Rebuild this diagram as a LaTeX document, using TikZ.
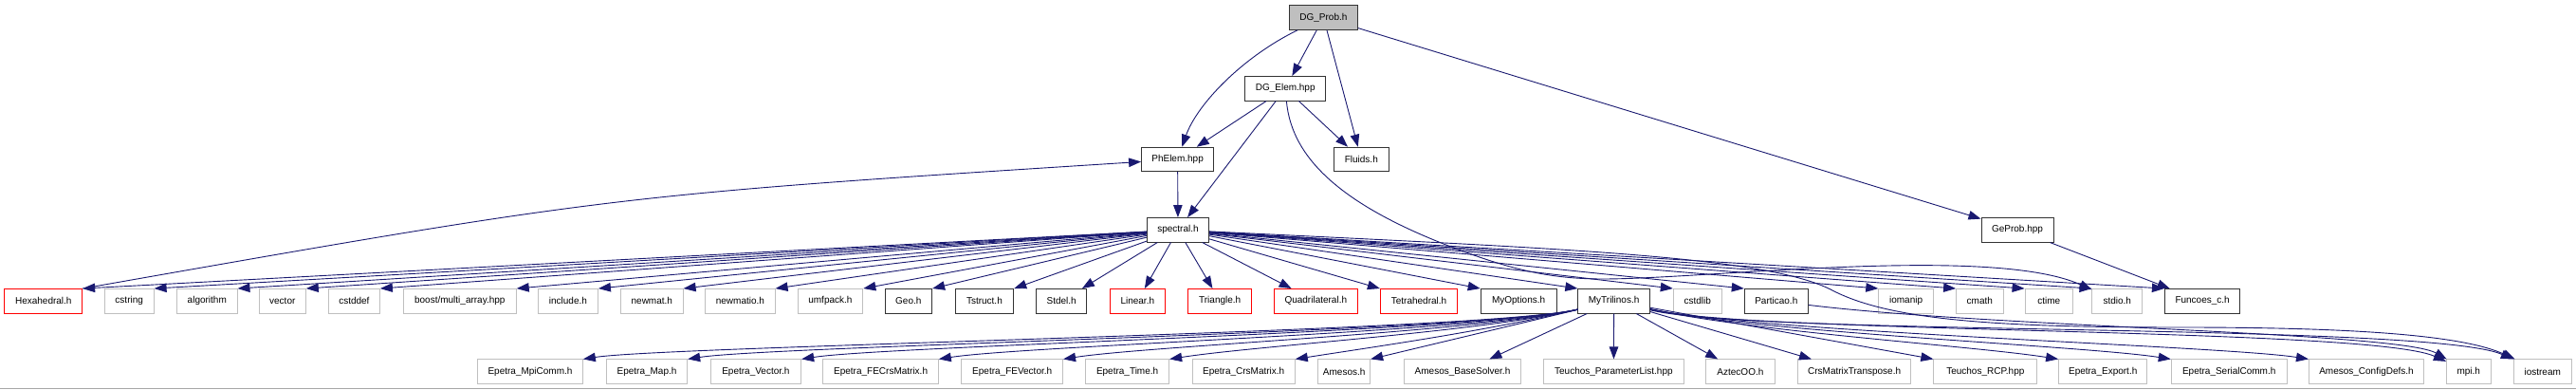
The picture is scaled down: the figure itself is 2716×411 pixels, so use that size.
\documentclass[tikz,border=0pt]{standalone}
\usepackage{fontspec}
\setmainfont{Liberation Sans}
\usetikzlibrary{arrows.meta}
\definecolor{edgec}{HTML}{191970}
\definecolor{grayb}{HTML}{BFBFBF}
\definecolor{redb}{HTML}{FF0000}
\tikzset{
 base/.style={draw, minimum height=25.5pt, inner sep=0pt, font=\fontsize{10}{12}\selectfont, text=black, line width=1pt},
 doc/.style={base, draw=black!80},
 ext/.style={base, draw=grayb},
 trunc/.style={base, draw=redb},
 root/.style={base, draw=black!80, fill=grayb},
 edge/.style={draw=edgec, line width=0.9pt, -{Triangle[length=13pt,width=9.5pt]}},
}
\begin{document}
\begin{tikzpicture}[x=1pt,y=-1pt]
\useasboundingbox (0,0) rectangle (2716,411);
\draw[black!35, line width=1pt] (0,409.5) -- (2716,409.5);
% upper levels
\node[root, minimum width=72pt] (dgprob) at (1395.4,18.5) {DG\_Prob.h};
\node[doc, minimum width=85pt] (dgelem) at (1355.2,93.3) {DG\_Elem.hpp};
\node[doc, minimum width=76pt] (phelem) at (1241.6,168) {PhElem.hpp};
\node[doc, minimum width=58pt] (fluids) at (1435.3,168) {Fluids.h};
\node[doc, minimum width=65pt] (spectral) at (1242,242.3) {spectral.h};
\node[doc, minimum width=76pt] (geprob) at (2127,242.3) {GeProb.hpp};
% row 4
\node[trunc, minimum width=81.7pt] (hexa) at (45.8,317.3) {Hexahedral.h};
\node[ext, minimum width=51.8pt] (cstring) at (136.2,317.3) {cstring};
\node[ext, minimum width=63.4pt] (algorithm) at (218.3,317.3) {algorithm};
\node[ext, minimum width=49pt] (vector) at (297.8,317.3) {vector};
\node[ext, minimum width=54pt] (cstddef) at (373.4,317.3) {cstddef};
\node[ext, minimum width=118.8pt] (boost) at (484.8,317.3) {boost/multi\_array.hpp};
\node[ext, minimum width=63pt] (include) at (598.9,317.3) {include.h};
\node[ext, minimum width=65.6pt] (newmat) at (687.3,317.3) {newmat.h};
\node[ext, minimum width=73.3pt] (newmatio) at (780.4,317.3) {newmatio.h};
\node[ext, minimum width=68.8pt] (umfpack) at (875.4,317.3) {umfpack.h};
\node[doc, minimum width=49.6pt] (geo) at (957.8,317.3) {Geo.h};
\node[doc, minimum width=61.6pt] (tstruct) at (1037.9,317.3) {Tstruct.h};
\node[doc, minimum width=52.6pt] (stdel) at (1119.2,317.3) {Stdel.h};
\node[trunc, minimum width=58.6pt] (linear) at (1199.3,317.3) {Linear.h};
\node[trunc, minimum width=67pt] (triangle) at (1286.2,317.3) {Triangle.h};
\node[trunc, minimum width=88pt] (quad) at (1387.3,317.3) {Quadrilateral.h};
\node[trunc, minimum width=81.2pt] (tetra) at (1496,317.3) {Tetrahedral.h};
\node[doc, minimum width=79.8pt] (myoptions) at (1601.1,317.3) {MyOptions.h};
\node[doc, minimum width=75.5pt] (mytri) at (1701.6,317.3) {MyTrilinos.h};
\node[ext, minimum width=51pt] (cstdlib) at (1789.8,317.3) {cstdlib};
\node[doc, minimum width=67pt] (particao) at (1872.8,317.3) {Particao.h};
\node[ext, minimum width=57.6pt] (iomanip) at (2009.6,317.3) {iomanip};
\node[ext, minimum width=49.4pt] (cmath) at (2087.3,317.3) {cmath};
\node[ext, minimum width=50.5pt] (ctime) at (2160.3,317.3) {ctime};
\node[ext, minimum width=52.7pt] (stdio) at (2232.3,317.3) {stdio.h};
\node[doc, minimum width=79.4pt] (funcoes) at (2322.1,317.3) {Funcoes\_c.h};
% row 5
\node[ext, minimum width=110.7pt] (mpicomm) at (559,391.7) {Epetra\_MpiComm.h};
\node[ext, minimum width=85.3pt] (emap) at (682,391.7) {Epetra\_Map.h};
\node[ext, minimum width=95.5pt] (evector) at (796.9,391.7) {Epetra\_Vector.h};
\node[ext, minimum width=121.4pt] (fecrs) at (928.6,391.7) {Epetra\_FECrsMatrix.h};
\node[ext, minimum width=106.7pt] (fevec) at (1067.2,391.7) {Epetra\_FEVector.h};
\node[ext, minimum width=88pt] (etime) at (1188.6,391.7) {Epetra\_Time.h};
\node[ext, minimum width=108.1pt] (crs) at (1311.2,391.7) {Epetra\_CrsMatrix.h};
\node[ext, minimum width=54.9pt] (amesos) at (1417.2,391.7) {Amesos.h};
\node[ext, minimum width=122.3pt] (basesolver) at (1542,391.7) {Amesos\_BaseSolver.h};
\node[ext, minimum width=147.3pt] (plist) at (1701.4,391.7) {Teuchos\_ParameterList.hpp};
\node[ext, minimum width=72.3pt] (aztec) at (1834.9,391.7) {AztecOO.h};
\node[ext, minimum width=119.2pt] (crst) at (1955.1,391.7) {CrsMatrixTranspose.h};
\node[ext, minimum width=108.9pt] (rcp) at (2093.3,391.7) {Teuchos\_RCP.hpp};
\node[ext, minimum width=93.1pt] (export) at (2217.2,391.7) {Epetra\_Export.h};
\node[ext, minimum width=121.9pt] (serial) at (2350.2,391.7) {Epetra\_SerialComm.h};
\node[ext, minimum width=121pt] (config) at (2495,391.7) {Amesos\_ConfigDefs.h};
\node[ext, minimum width=46.7pt] (mpi) at (2602.7,391.7) {mpi.h};
\node[ext, minimum width=60.7pt] (iostream) at (2680.7,391.7) {iostream};
% upper edges
\draw[edge] (dgprob) .. controls (1310,60) and (1262,110) .. (phelem);
\draw[edge] (dgprob) -- (dgelem);
\draw[edge] (dgprob) -- (fluids);
\draw[edge] (dgprob) -- (geprob);
\draw[edge] (dgelem) -- (phelem);
\draw[edge] (dgelem) -- (spectral);
\draw[edge] (dgelem) -- (fluids);
\draw[edge] (dgelem) .. controls (1362,170) and (1420,220) .. (1543,265) .. controls (1600,286) and (1640,294) .. (1690,294) .. controls (1800,294) and (2100,258) .. (stdio);
\draw[edge] (phelem) -- (spectral);
\draw[edge] (hexa.north east) .. controls (645,206) .. (phelem);
\draw[edge] (geprob) -- (funcoes);
% spectral fan
\foreach \t in {hexa,cstring,algorithm,vector,cstddef,boost,include,newmat,newmatio,umfpack,geo,tstruct}
  \draw[edge] (spectral) -- (\t.north east);
\foreach \t in {stdel,linear,triangle,quad}
  \draw[edge] (spectral) -- (\t);
\foreach \t in {tetra,myoptions,mytri,cstdlib,particao,iomanip,cmath,ctime,stdio,funcoes}
  \draw[edge] (spectral) -- (\t.north west);
\draw[edge] (spectral) .. controls (1650,262) and (1860,270) .. (1930,305) .. controls (1990,337) and (2100,345) .. (2300,345) .. controls (2500,345) and (2600,355) .. (iostream);
% Particao
\draw[edge] (particao) .. controls (2100,345) and (2530,350) .. (mpi);
% MyTrilinos fan
\foreach \t in {mpicomm,emap,evector,fecrs,fevec,etime,crs}
  \draw[edge] (mytri) .. controls (1560,350) and +(90,-14) .. (\t.north east);
\draw[edge] (mytri) -- (amesos.north east);
\draw[edge] (mytri) -- (basesolver);
\draw[edge] (mytri) -- (plist);
\draw[edge] (mytri) -- (aztec);
\draw[edge] (mytri) -- (crst);
\draw[edge] (mytri) -- (rcp.north west);
\foreach \t in {export,serial,config}
  \draw[edge] (mytri) .. controls (1850,350) and +(-90,-14) .. (\t.north west);
\draw[edge] (mytri) .. controls (1850,352) and (2500,345) .. (mpi);
\draw[edge] (mytri) .. controls (1850,354) and (2560,340) .. (iostream);
\end{tikzpicture}
\end{document}
